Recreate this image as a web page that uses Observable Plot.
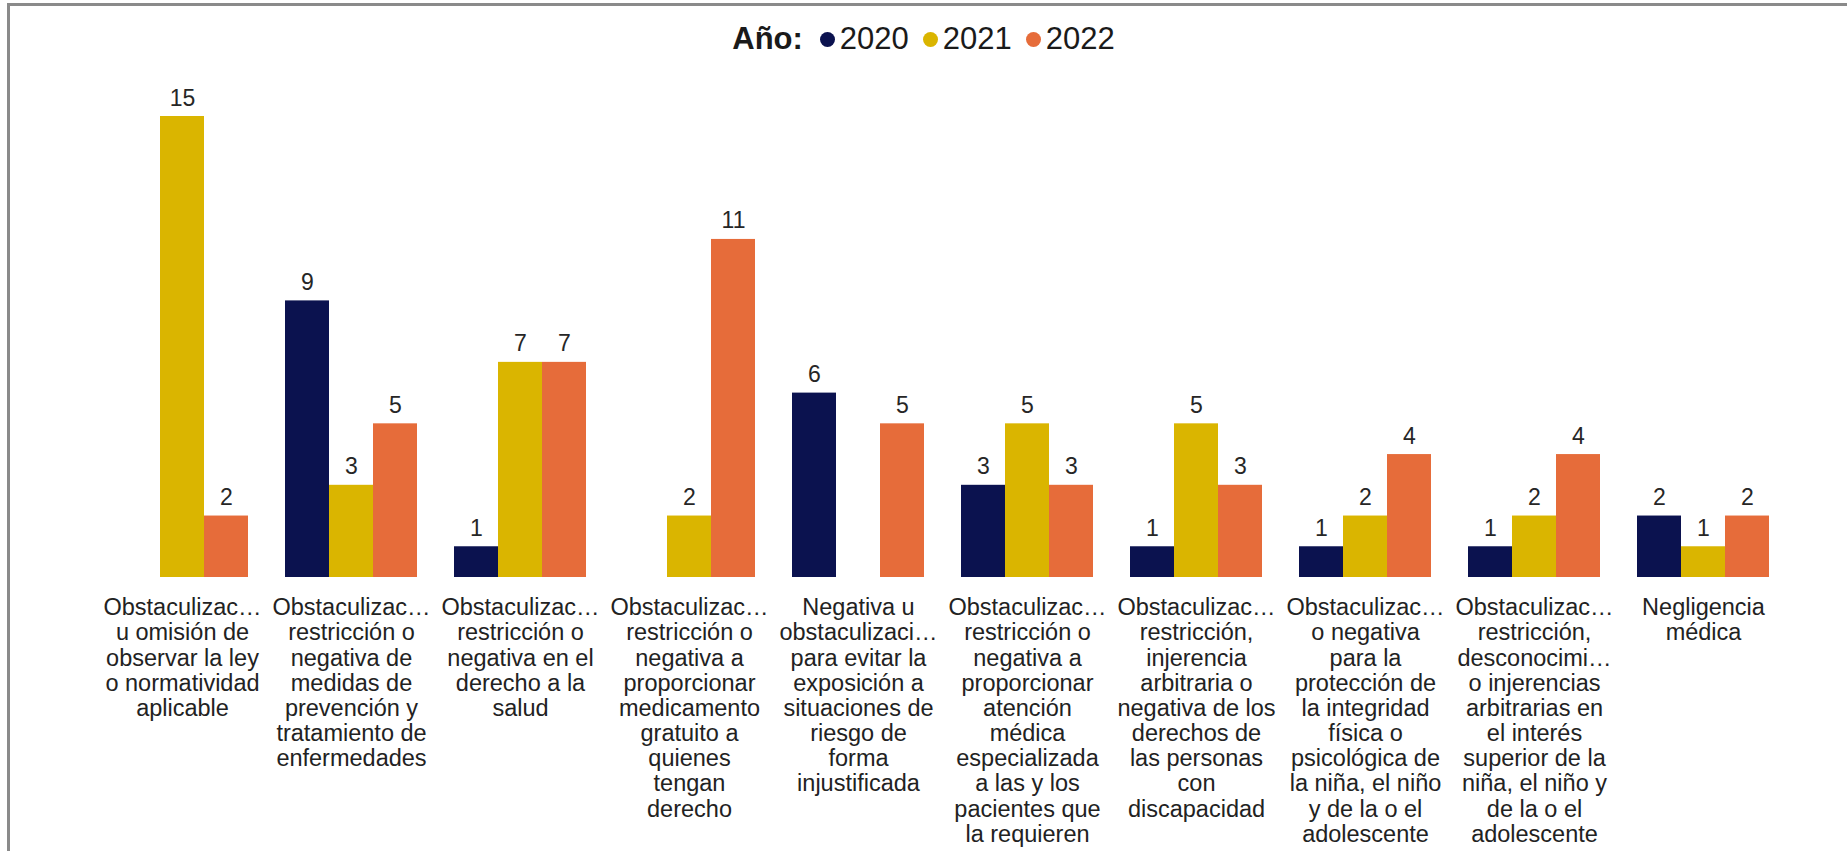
<!DOCTYPE html>
<html>
<head>
<meta charset="utf-8">
<script src="https://cdn.jsdelivr.net/npm/d3@7"></script>
<script src="https://cdn.jsdelivr.net/npm/@observablehq/plot@0.6"></script>
<style>
  html, body { margin: 0; padding: 0; background: #fff; overflow: hidden; }
  body { width: 1847px; height: 851px; position: relative; font-family: "Liberation Sans", Arial, sans-serif; }
  #frame { position: absolute; top: 3px; left: 7px; width: 2000px; height: 1000px;
           border-top: 3px solid #8a8a8a; border-left: 3px solid #8a8a8a; box-sizing: border-box; }
  #legend { position: relative; height: 78px; display: flex; justify-content: center; align-items: center;
            font-size: 31px; color: #1a1a1a; }
  #legend b { margin-right: 17px; }
  #legend .sw { display: inline-flex; align-items: center; margin-right: 14px; }
  #legend .sw:last-child { margin-right: 0; }
  #legend .dot { width: 15px; height: 15px; border-radius: 50%; display: inline-block; margin-right: 5px; }
  #chart { position: relative; }
</style>
</head>
<body>
<div id="frame"></div>
<div id="legend"></div>
<div id="chart"></div>
<script>
const categories = [
  "Obstaculizac…\nu omisión de\nobservar la ley\no normatividad\naplicable",
  "Obstaculizac…\nrestricción o\nnegativa de\nmedidas de\nprevención y\ntratamiento de\nenfermedades",
  "Obstaculizac…\nrestricción o\nnegativa en el\nderecho a la\nsalud",
  "Obstaculizac…\nrestricción o\nnegativa a\nproporcionar\nmedicamento\ngratuito a\nquienes\ntengan\nderecho",
  "Negativa u\nobstaculizaci…\npara evitar la\nexposición a\nsituaciones de\nriesgo de\nforma\ninjustificada",
  "Obstaculizac…\nrestricción o\nnegativa a\nproporcionar\natención\nmédica\nespecializada\na las y los\npacientes que\nla requieren",
  "Obstaculizac…\nrestricción,\ninjerencia\narbitraria o\nnegativa de los\nderechos de\nlas personas\ncon\ndiscapacidad",
  "Obstaculizac…\no negativa\npara la\nprotección de\nla integridad\nfísica o\npsicológica de\nla niña, el niño\ny de la o el\nadolescente",
  "Obstaculizac…\nrestricción,\ndesconocimi…\no injerencias\narbitrarias en\nel interés\nsuperior de la\nniña, el niño y\nde la o el\nadolescente",
  "Negligencia\nmédica"
];
const years = ["2020", "2021", "2022"];
const colors = ["#0b124f", "#dab500", "#e66c3a"];
const v2020 = [null, 9, 1, null, 6, 3, 1, 1, 1, 2];
const v2021 = [15, 3, 7, 2, null, 5, 5, 2, 2, 1];
const v2022 = [2, 5, 7, 11, 5, 3, 3, 4, 4, 2];

const series = [v2020, v2021, v2022];
const data = [];
categories.forEach((c, i) => {
  years.forEach((y, j) => data.push({cat: c, year: y, value: series[j][i]}));
});

// legend
const legend = document.getElementById("legend");
const title = document.createElement("b");
title.textContent = "Año:";
legend.appendChild(title);
years.forEach((y, j) => {
  const s = document.createElement("span");
  s.className = "sw";
  const d = document.createElement("span");
  d.className = "dot";
  d.style.background = colors[j];
  s.appendChild(d);
  s.appendChild(document.createTextNode(y));
  legend.appendChild(s);
});

const chart = Plot.plot({
  width: 1847,
  height: 773,
  marginTop: 38,
  marginBottom: 274,
  marginLeft: 77,
  marginRight: 38,
  style: {fontFamily: "Liberation Sans, Arial, sans-serif", background: "transparent", overflow: "visible"},
  fx: {domain: categories, paddingInner: 0.206, paddingOuter: 0.209, label: null},
  x: {domain: years, padding: 0, axis: null},
  y: {domain: [0, 15], axis: null},
  color: {domain: years, range: colors},
  marks: [
    Plot.barY(data, {filter: d => d.value != null, fx: "cat", x: "year", y: "value", fill: "year"}),
    Plot.text(data, {filter: d => d.value != null, fx: "cat", x: "year", y: "value", text: d => String(d.value),
      lineAnchor: "bottom", dy: -11, fontSize: 23, fill: "#262626"}),
    Plot.axisFx({anchor: "bottom", tickSize: 0, tickPadding: 20, fontSize: 23.5, lineHeight: 1.07,
      label: null, fill: "#222", textOverflow: null})
  ]
});
document.getElementById("chart").appendChild(chart);
</script>
</body>
</html>
